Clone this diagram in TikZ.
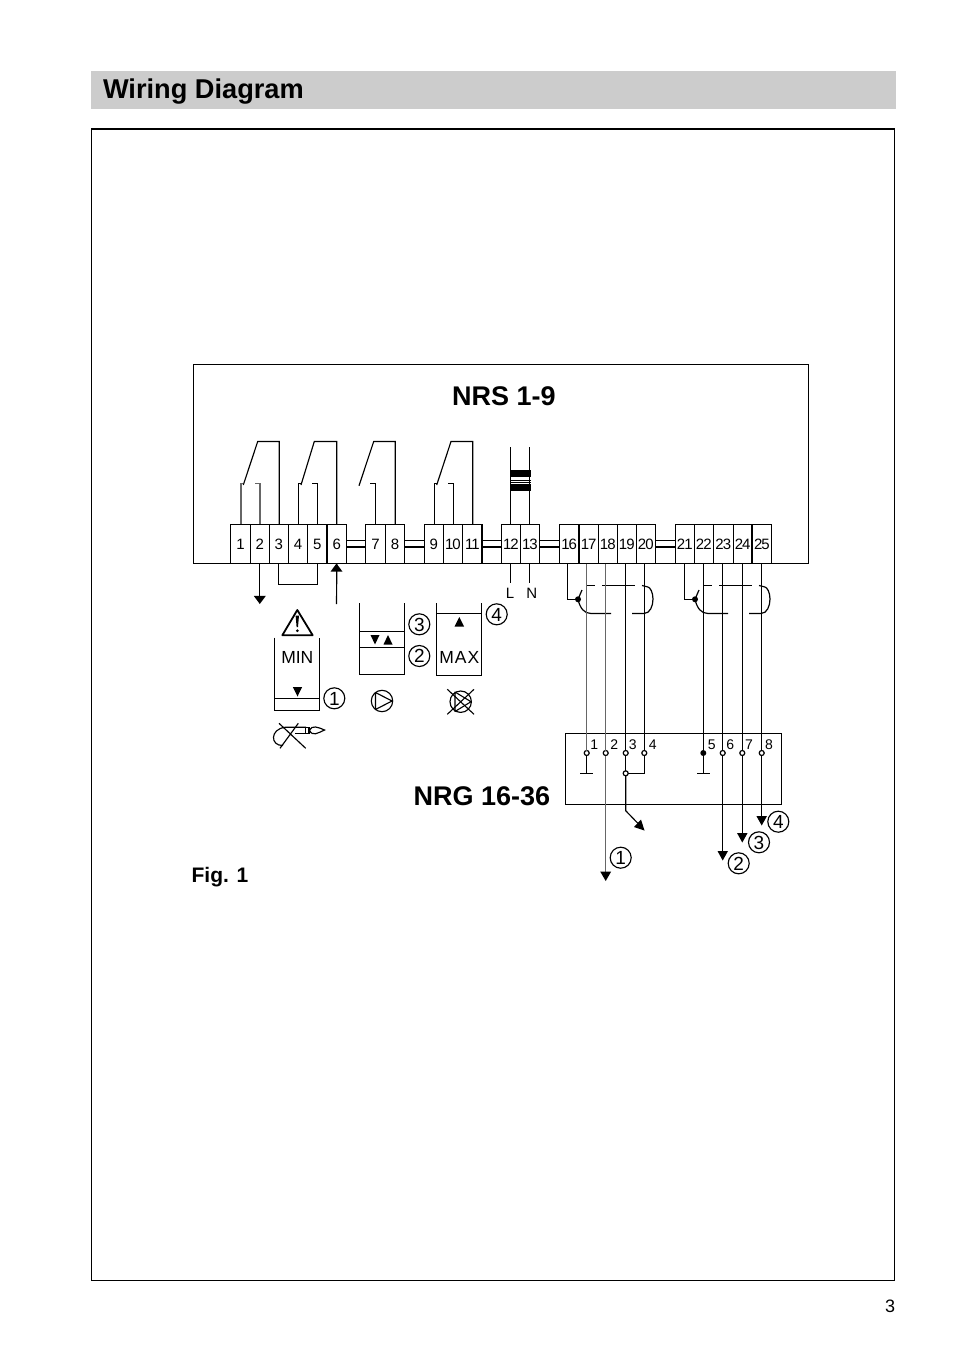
\documentclass[tikz,border=0pt]{standalone}
\usepackage{fontspec}
\setmainfont{Liberation Sans}
\newfontfamily\termfont[LetterSpace=-7]{Liberation Sans}
\newcommand{\fs}[1]{\fontsize{#1}{#1}\selectfont}
\tikzset{
  every node/.style={outer sep=0pt},
  wire/.style={line width=1.15pt,black},
  gwire/.style={line width=1.3pt,black!60},
  thick line/.style={line width=2pt,black},
  term/.style={draw,line width=1.1pt,inner sep=0pt,anchor=north west,font=\termfont\fs{15},text depth=0pt,text height=11pt},
  tip/.style={fill=black,draw=none},
  num/.style={draw,circle,line width=1.15pt,inner sep=0pt,minimum size=21pt,font=\fs{19},text depth=0pt,text height=13.5pt},
  pin/.style={font=\fs{14},inner sep=0pt,text depth=0pt,text height=10pt},
  opn/.style={draw,circle,fill=white,line width=1.2pt,inner sep=0pt,minimum size=5pt},
  dot/.style={circle,fill=black,inner sep=0pt,minimum size=6pt},
  cbl/.style={line width=1.2pt,black},
  head/.style={font=\fs{27.2}\bfseries,inner sep=0pt}
}
\newcommand{\downtip}[3]{\path[tip] (#1-#3,#2-#3*1.35) -- (#1+#3,#2-#3*1.35) -- (#1,#2) -- cycle;}
\newcommand{\uptip}[3]{\path[tip] (#1-#3,#2+#3*1.35) -- (#1+#3,#2+#3*1.35) -- (#1,#2) -- cycle;}
\begin{document}
\begin{tikzpicture}[x=1pt,y=-1pt]
\useasboundingbox (0,0) rectangle (954,1352);
% page furniture
\fill[black!20] (91,71) rectangle (896,108.5);
\node[head,anchor=base west] (title) at (103,98) {Wiring Diagram};
\draw[line width=1.2pt] (91.5,129) -- (91.5,1280.5) -- (894.5,1280.5) -- (894.5,129);
\draw[line width=2pt] (91,129) -- (895,129);
\node[font=\fs{18},inner sep=0pt] (pg) at (890,1306) {3};
% main box
\node[draw,line width=1pt,inner sep=0pt,anchor=north west,minimum width=615pt,minimum height=199pt] (nrs) at (193.5,364.5) {};
\node[font=\fs{27}\bfseries,inner sep=0pt] (nrst) at (504,396) {NRS 1-9};
\node[font=\fs{27}\bfseries,inner sep=0pt] (nrgt) at (482,796) {NRG 16-36};
\node[font=\fs{21}\bfseries,inner sep=0pt] (fig) at (220,877) {Fig. 1};
% terminals
\foreach \n/\a/\b in {1/230.7/250.3,2/250.3/269.3,3/269.3/288.3,4/288.3/307.7,5/307.7/327,6/327/346.7,
  7/365.7/385.3,8/385.3/404.7,9/424.3/443.3,10/443.3/462.7,11/462.7/482.3,12/501.3/520.5,13/520.5/539.3,
  16/559.3/579,17/579/598.3,18/598.3/617.3,19/617.3/636.3,20/636.3/655.3,
  21/675.3/694.3,22/694.3/713.3,23/713.3/733.3,24/733.3/752,25/752/771.7}{
  \pgfmathsetmacro{\w}{\b-\a}
  \node[term,minimum width=\w pt,minimum height=39pt,fill=white] (t\n) at (\a,524.5) {\n};
}
\draw[thick line] (t5.south east) -- (t5.north east);
\draw[thick line] (t11.south east) -- (t11.north east);
\draw[thick line] (t16.south east) -- (t16.north east);
\draw[thick line] (t24.south east) -- (t24.north east);
% bridges
\foreach \a/\b in {6/7,8/9,11/12,13/16,20/21}{
  \draw[line width=1.8pt] ([yshift=-3pt]t\a.east) -- ([yshift=-3pt]t\b.west);
  \draw[line width=1.1pt] ([yshift=3.5pt]t\a.east) -- ([yshift=3.5pt]t\b.west);
}
% relays
\draw[wire] (243.3,485) -- (257.7,441.5) -- (279.3,441.5) -- (279.3,524.3);
\draw[gwire] (243.3,483.5) -- (241,483.5) -- (241,524.3);
\draw[gwire] (255,483.5) -- (260,483.5) -- (260,524.3);
\draw[wire] (301,485) -- (314.3,441.5) -- (336.7,441.5) -- (336.7,524.3);
\draw[wire] (301,483.5) -- (298.3,483.5) -- (298.3,524.3);
\draw[wire] (312.3,483.5) -- (317.7,483.5) -- (317.7,524.3);
\draw[wire] (359,485.7) -- (373.7,441.5) -- (395.3,441.5) -- (395.3,524.3);
\draw[wire] (370.3,483.5) -- (375.7,483.5) -- (375.7,524.3);
\draw[wire] (436.7,485) -- (451,441.5) -- (472.7,441.5) -- (472.7,524.3);
\draw[wire] (436.7,483.5) -- (434.3,483.5) -- (434.3,524.3);
\draw[wire] (448.3,483.5) -- (453.3,483.5) -- (453.3,524.3);
% transformer
\draw[wire] (t12.north) -- (510.9,447.3);
\draw[wire] (t13.north) -- (529.9,447.3);
\fill (510.5,470) rectangle (530.5,477);
\fill (510.5,484) rectangle (530.5,491);
\draw[line width=0.6pt] (510.5,480) -- (530.5,480) (510.5,482) -- (530.5,482);
% mains
\draw[wire] (t12.south) -- ++(0,19.4);
\draw[wire] (t13.south) -- ++(0,19.4);
\node[font=\fs{15},inner sep=0pt] (lL) at (510,593.5) {L};
\node[font=\fs{15},inner sep=0pt] (lN) at (531.7,593.5) {N};
% external of alarm
\draw[wire] (t2.south) -- ++(0,32);
\downtip{259.8}{604}{6}
\draw[wire] (t3.south) -- ++(0,21) -| (t5.south);
\draw[wire] (336.5,604) -- (t6.south);
\uptip{336.5}{563.5}{6}
% MIN symbol
\draw[line width=1.8pt,line join=round] (297.3,610) -- (282.3,635.3) -- (312.7,635.3) -- cycle;
\fill (295.6,615.5) -- (299,615.5) -- (298,627) -- (296.6,627) -- cycle;
\fill (297.3,630.7) circle (1.5);
\draw[line width=1.15pt] (274.5,637.5) -- (274.5,710.5) -- (319.5,710.5) -- (319.5,637.5);
\draw[line width=1.15pt] (274.5,698.5) -- (319.5,698.5);
\node[font=\fs{17.5},inner sep=0pt] (min) at (297.3,657.7) {MIN};
\path[tip] (292.8,687) -- (302.2,687) -- (297.5,696.5) -- cycle;
\node[num] (c1a) at (334.3,698.3) {1};
% pump level
\draw[line width=1.15pt] (359.5,603) -- (359.5,674.5) -- (404.5,674.5) -- (404.5,603);
\draw[line width=1.15pt] (359.5,631.5) -- (404.5,631.5) (359.5,647.5) -- (404.5,647.5);
\path[tip] (370.5,635) -- (379.5,635) -- (375,644.5) -- cycle;
\path[tip] (383.5,644.5) -- (392.5,644.5) -- (388,635) -- cycle;
\node[num] (c3a) at (419.3,624.3) {3};
\node[num] (c2a) at (419.3,656) {2};
% MAX level
\draw[line width=1.15pt] (436.5,603) -- (436.5,675.5) -- (481.5,675.5) -- (481.5,603);
\draw[line width=1.15pt] (436.5,613.5) -- (481.5,613.5);
\path[tip] (454.5,626.5) -- (464,626.5) -- (459.3,617) -- cycle;
\node[font=\fs{17.5},inner sep=0pt] (max) at (459.3,657) {M\kern1pt A\kern1pt X};
\node[num] (c4a) at (496.7,614.3) {4};
% pump
\draw[line width=1.15pt] (382,701) circle (10.7);
\draw[line width=1.15pt,line join=round] (375.5,692.5) -- (392,701) -- (375.5,709.5) -- cycle;
% valve
\draw[line width=1.15pt] (460.7,701.7) circle (10.7);
\draw[line width=1.1pt] (447.3,689.3) -- (474,714.3) (474,689.3) -- (447.3,714.3);
\draw[line width=1.1pt,line join=round] (455,692) -- (471,701.7) -- (455,711.5) -- cycle;
% burner
\draw[line width=1.15pt] (279,723.3) -- (305.7,748.3) (298.3,723.3) -- (280,748.3);
\draw[line width=1.15pt] (306,727.3) -- (285,727.3) .. controls (270,729) and (270,746) .. (283,745.5);
\draw[line width=1.15pt] (295,733.3) -- (306,733.3);
\draw[line width=1.15pt,fill=white] (305.5,727.3) rectangle (309,733.3);
\draw[line width=1.15pt] (309.5,730) .. controls (312,725) and (318,727) .. (324.5,730) .. controls (318,733) and (312,737) .. (309.5,730) -- cycle;
% cable screens
\draw[wire] (567.3,563.5) -- (567.3,599.3) -- (578,599.3) node[dot] (d1) {};
\draw[wire] (684.3,563.5) -- (684.3,599.3) -- (695,599.3) node[dot] (d2) {};
\foreach \dx/\nm in {0/a,117/b}{
\begin{scope}[xshift=\dx pt]
  \draw[cbl] (578,599.3) -- (582,590);
  \draw[cbl] (578,599.3) .. controls (580,608) and (584,613.5) .. (591,613.5) -- (611,613.5);
  \draw[cbl] (632,613.5) -- (644,613.5) .. controls (650,613.5) and (653,606) .. (653,599) .. controls (653,592) and (650,587.5) .. (648,587) ;
  \draw[cbl] (587,585.5) -- (595,585.5);
  \draw[cbl] (602,585.5) -- (635,585.5);
  \draw[cbl] (642,585.5) -- (648,587);
\end{scope}
}
% sensor box
\node[draw,line width=1.1pt,inner sep=0pt,anchor=north west,minimum width=216pt,minimum height=71pt] (nrg) at (565.5,733.5) {};
% contact points
\foreach \n/\x in {1/586.7,2/605.7,3/625.7,4/644.3,6/722.7,7/742.3,8/761.7}{
  \node[opn] (p\n) at (\x,753) {};
}
\node[dot,minimum size=6pt] (p5) at (703.3,753) {};
\foreach \n/\x in {1/594.3,2/614.3,3/632.7,4/652.7,5/711.7,6/730.3,7/749,8/769}{
  \node[pin] (lb\n) at (\x,744) {\n};
}
\node[opn] (j) at (625.7,773.3) {};
% ground
\coordinate (g1) at (586.7,773.3);
\coordinate (g5) at (703.3,773.3);
\draw[line width=1.6pt] (580.3,773.3) -- (593,773.3);
\draw[line width=1.6pt] (697,773.3) -- (709.6,773.3);
\draw[gwire] (p1 |- t17.south) -- (p1);
\draw[wire] (p1) -- (g1);
\draw[gwire] (p2 |- t18.south) -- (p2);
\draw[gwire] (p2) -- (605.7,873);
\path[tip] (600.2,871.5) -- (611.2,871.5) -- (605.7,881) -- cycle;
\draw[wire] (p3 |- t19.south) -- (p3);
\draw[wire] (p3) -- (j);
\draw[wire] (p4 |- t20.south) -- (p4);
\draw[wire] (p4) -- (644.3,773.3) -- (j);
\draw[wire] (j) -- (625.7,810.7) -- (640,825.5);
\path[tip] (644.5,830.5) -- (634,827) -- (641,819.5) -- cycle;
\draw[wire] (p5 |- t22.south) -- (p5);
\draw[wire] (p5) -- (g5);
\draw[wire] (p6 |- t23.south) -- (p6);
\draw[wire] (p6) -- (722.7,852);
\path[tip] (717.5,851) -- (728,851) -- (722.7,860.5) -- cycle;
\draw[wire] (p7 |- t24.south) -- (p7);
\draw[wire] (p7) -- (742.3,834);
\path[tip] (737,833) -- (747.6,833) -- (742.3,842.5) -- cycle;
\draw[wire] (p8 |- t25.south) -- (p8);
\draw[wire] (p8) -- (761.7,817);
\path[tip] (756.4,816) -- (767,816) -- (761.7,825.5) -- cycle;
\node[num] (c1b) at (620.7,857.7) {1};
\node[num] (c2b) at (738.7,863.3) {2};
\node[num] (c3b) at (759,842.3) {3};
\node[num] (c4b) at (778.3,821.7) {4};
\end{tikzpicture}
\end{document}
